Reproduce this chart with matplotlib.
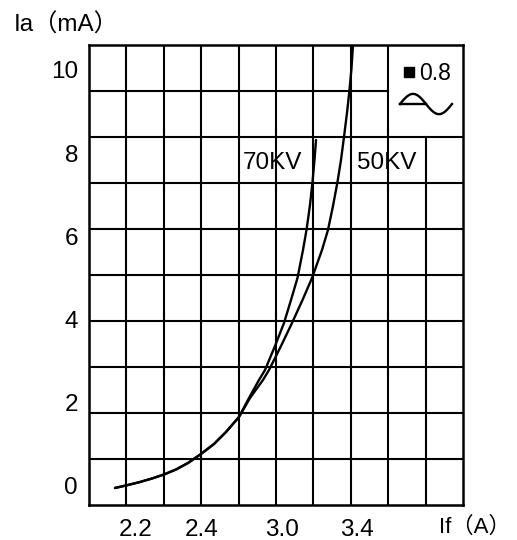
import numpy as np
import matplotlib
matplotlib.use('Agg')
import matplotlib.pyplot as plt

plt.rcParams['font.family'] = ['Liberation Sans', 'Noto Sans CJK SC', 'DejaVu Sans']

# x is measured in grid columns (the printed If labels are not evenly spaced)
shared_x = [0.695, 1.043, 1.364, 1.684, 2.005, 2.326, 2.647, 2.995, 3.342, 3.663, 4.011]
shared_y = [-0.048, 0.024, 0.096, 0.180, 0.276, 0.397, 0.553, 0.769, 1.010, 1.298, 1.659]

kv70_x = [4.278, 4.545, 4.706, 4.973, 5.214, 5.401, 5.575, 5.722, 5.816, 5.909, 5.976, 6.029, 6.070]
kv70_y = [2.115, 2.548, 2.788, 3.365, 3.918, 4.471, 5.000, 5.673, 6.154, 6.755, 7.308, 7.837, 8.317]

kv50_x = [4.305, 4.652, 4.813, 5.134, 5.428, 5.709, 5.963, 6.230, 6.390, 6.524, 6.644,
          6.738, 6.818, 6.898, 6.965, 7.019, 7.059]
kv50_y = [2.115, 2.548, 2.788, 3.365, 3.918, 4.471, 5.000, 5.673, 6.154, 6.731, 7.308,
          7.837, 8.389, 8.966, 9.519, 10.048, 10.601]

xtick_pos = [1.26, 3.00, 5.16, 7.17]
xtick_labels = ['2.2', '2.4', '3.0', '3.4']
ytick_vals = [0, 2, 4, 6, 8, 10]

ylo, yhi = -0.457, 10.60
ncols, nrows = 10, 10
fs = 17.5

fig = plt.figure(figsize=(5.17, 5.40), dpi=100)
ax = fig.add_axes([89 / 517, 35 / 540, 374 / 517, 460 / 540])
ax.set_xlim(0, ncols)
ax.set_ylim(ylo, yhi)

# grid, with the top-right legend cell left open
rows = np.linspace(ylo, yhi, nrows + 1)
for i in range(1, ncols):
    top = rows[8] if i == 9 else yhi
    ax.plot([i, i], [ylo, top], color='black', lw=1.5, zorder=1)
for j in range(1, nrows):
    right = 8 if j == 9 else ncols
    ax.plot([0, right], [rows[j], rows[j]], color='black', lw=1.5, zorder=1)

for s in ax.spines.values():
    s.set_linewidth(1.8)

# curves
x70 = shared_x + kv70_x
y70 = shared_y + kv70_y
x50 = shared_x + kv50_x
y50 = shared_y + kv50_y
ax.plot(x70, y70, color='black', lw=1.7, solid_joinstyle='round', solid_capstyle='round', zorder=3)
ax.plot(x50, y50, color='black', lw=1.7, solid_joinstyle='round', solid_capstyle='round', zorder=3)

ax.text(4.12, 7.76, '70KV', fontsize=fs, va='center', ha='left')
ax.text(7.17, 7.76, '50KV', fontsize=fs, va='center', ha='left')

# legend cell: square 0.8 and wave symbol
ax.plot([0.856], [0.941], marker='s', color='black', ms=7.5, transform=ax.transAxes)
ax.text(0.882, 0.939, '0.8', fontsize=16.5, va='center', ha='left', transform=ax.transAxes)
t = np.linspace(0, 2 * np.pi, 100)
wx = 0.8316 + (0.9706 - 0.8316) * t / (2 * np.pi)
wy = 0.8717 + 0.022 * np.sin(t)
ax.plot(wx, wy, color='black', lw=1.7, transform=ax.transAxes)
ax.plot([wx[0], wx[50]], [0.8717, 0.8717], color='black', lw=1.7, transform=ax.transAxes)

ax.set_xticks(xtick_pos)
ax.set_xticklabels(xtick_labels, fontsize=fs)
ax.set_yticks(ytick_vals)
ax.set_yticklabels([str(v) for v in ytick_vals], fontsize=fs)
ax.tick_params(axis='both', length=0)
ax.tick_params(axis='x', pad=10)
ax.tick_params(axis='y', pad=8)

fig.text(14 / 517, 1 - 25 / 540, 'Ia（mA）', fontsize=fs, va='center', ha='left')
fig.text(511 / 517, 1 - 527 / 540, 'If（A）', fontsize=16, va='center', ha='right')

fig.savefig('out.png', dpi=100, facecolor='white')
